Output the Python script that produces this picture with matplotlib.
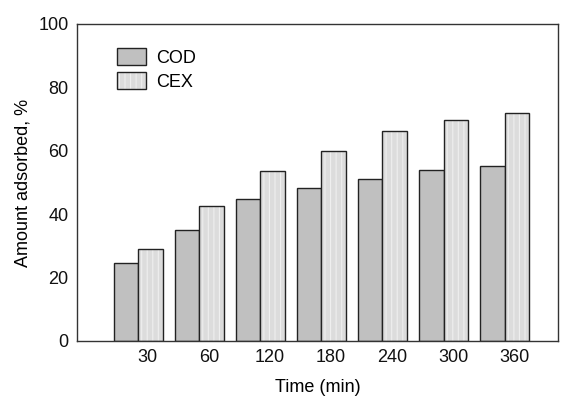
import numpy as np
import matplotlib.pyplot as plt
from matplotlib.patches import Patch

times = ['30', '60', '120', '180', '240', '300', '360']
cod = [24.7, 35.0, 44.8, 48.4, 51.1, 53.9, 55.3]
cex = [28.9, 42.5, 53.6, 60.0, 66.3, 69.6, 71.9]

plt.rcParams['font.family'] = ['Liberation Sans', 'DejaVu Sans']
plt.rcParams['hatch.linewidth'] = 0.8

fig = plt.figure(figsize=(5.64, 3.99), dpi=100)
ax = fig.add_axes([0.1365, 0.1454, 0.8525, 0.7946])

x = np.arange(len(times))
w = 0.4
ax.bar(x - w/2, cod, w, color='#c0c0c0', edgecolor='#222222', lw=1.0)
# light dotted fill, then outline on top
ax.bar(x + w/2, cex, w, color='#dcdcdc', edgecolor='#efefef', lw=0, hatch='|||')
ax.bar(x + w/2, cex, w, color='none', edgecolor='#222222', lw=1.0)

ax.set_xlim(-1.0, 6.87)
ax.set_ylim(0, 100)
ax.set_xticks(x + 0.16)
ax.set_xticklabels(times)
ax.set_yticks([0, 20, 40, 60, 80, 100])
ax.tick_params(length=0, labelsize=13, pad=6, colors='#111111')
for s in ax.spines.values():
    s.set_color('#333333')
    s.set_linewidth(1.0)

ax.set_xlabel('Time (min)', fontsize=13, labelpad=9)
ax.set_ylabel('Amount adsorbed, %', fontsize=13, labelpad=5)

h1 = Patch(facecolor='#c0c0c0', edgecolor='#222222', lw=1.0)
h2a = Patch(facecolor='#dcdcdc', edgecolor='#efefef', lw=0, hatch='|||')
h2b = Patch(facecolor='none', edgecolor='#222222', lw=1.0)
ax.legend([h1, (h2a, h2b)], ['COD', 'CEX'], loc='upper left',
          bbox_to_anchor=(0.083, 0.925), frameon=False, fontsize=13,
          handlelength=1.6, handleheight=1.1, labelspacing=0.3,
          handletextpad=0.6, borderaxespad=0, borderpad=0)

plt.savefig('out.png')
